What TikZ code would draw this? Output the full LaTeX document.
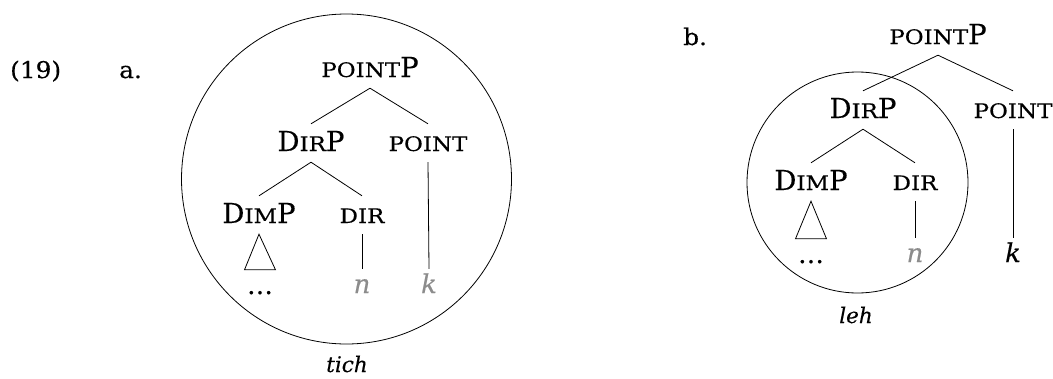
\documentclass[tikz,border=0pt]{standalone}
\usepackage{fontspec}
\setmainfont[FakeBold=0.3]{DejaVu Serif}
\newfontfamily\scfont[FakeBold=0.3,FakeStretch=1.15]{DejaVu Serif}
\newfontfamily\lblfont[FakeBold=0.3,FakeStretch=1.08]{DejaVu Serif}
\newcommand\smc[1]{{\scfont\fontsize{20}{22}\selectfont #1}}
\begin{document}
\begin{tikzpicture}[x=1pt,y=-1pt,
  cat/.style={font=\fontsize{27.5}{30}\selectfont, inner sep=0pt, text height=27pt, text depth=11pt, anchor=base},
  term/.style={font=\fontsize{26}{30}\selectfont\itshape, inner sep=0pt, text height=24pt, text depth=0pt, anchor=base},
  dotsnode/.style={font=\fontsize{26}{30}\selectfont, inner sep=0pt, text height=24pt, text depth=0pt, anchor=base},
  lbl/.style={font=\lblfont\fontsize{23}{26}\selectfont, inner sep=0pt, anchor=base west},
  ann/.style={font=\fontsize{21.5}{24}\selectfont\itshape, inner sep=0pt, text height=16pt, text depth=0pt, anchor=base},
  edge/.style={line width=0.8pt},
  ring/.style={draw, circle, line width=0.8pt, inner sep=0pt},
  ghost/.style={text=black!45}]
\useasboundingbox (0,0) rectangle (1053,378);
% (a)
\node[lbl] (ex) at (10,78) {(19)};
\node[lbl] (la) at (119,78) {a.};
\node[ring, minimum size=330pt] (ca) at (346.5,179) {};
\node[cat] (aP) at (370,77) {\smc{POINT}P};
\node[cat] (aD) at (311,151) {D\smc{IR}P};
\node[cat] (aPt) at (428,151) {\smc{POINT}};
\node[cat] (aDim) at (259,223) {D\smc{IM}P};
\node[cat] (aDir) at (362,223) {\smc{DIR}};
\node[dotsnode] (adots) at (260,294) {\ldots};
\node[term, ghost] (an) at (362,293) {n};
\node[term, ghost] (ak) at (429,293) {k};
\node[ann] (tich) at (347,372) {tich};
\draw[edge] (aP.south) -- (aD.north);
\draw[edge] (aP.south) -- (aPt.north);
\draw[edge] (aD.south) -- (aDim.north);
\draw[edge] (aD.south) -- (aDir.north);
\draw[edge] (aDim.south) -- ([xshift=-15.5pt]adots.north) -- ([xshift=15.5pt]adots.north) -- cycle;
\draw[edge] (aDir.south) -- (an.north);
\draw[edge] (aPt.south) -- (ak.north);
% (b)
\node[lbl] (lb) at (683,45) {b.};
\node[ring, minimum size=221pt] (cb) at (857.5,182.5) {};
\node[cat] (bP) at (938,44) {\smc{POINT}P};
\node[cat] (bD) at (863,118) {D\smc{IR}P};
\node[cat] (bPt) at (1013,118) {\smc{POINT}};
\node[cat] (bDim) at (811,190) {D\smc{IM}P};
\node[cat] (bDir) at (915,190) {\smc{DIR}};
\node[dotsnode] (bdots) at (811,263) {\ldots};
\node[term] (bn) at (915,262) {\textcolor{black!45}{n}};
\node[term] (bk) at (1013,262) {k};
\node[ann] (leh) at (856,323) {leh};
\draw[edge] (bP.south) -- (bD.north);
\draw[edge] (bP.south) -- (bPt.north);
\draw[edge] (bD.south) -- (bDim.north);
\draw[edge] (bD.south) -- (bDir.north);
\draw[edge] (bDim.south) -- ([xshift=-15.5pt]bdots.north) -- ([xshift=15.5pt]bdots.north) -- cycle;
\draw[edge] (bDir.south) -- (bn.north);
\draw[edge] (bPt.south) -- (bk.north);
\end{tikzpicture}
\end{document}
